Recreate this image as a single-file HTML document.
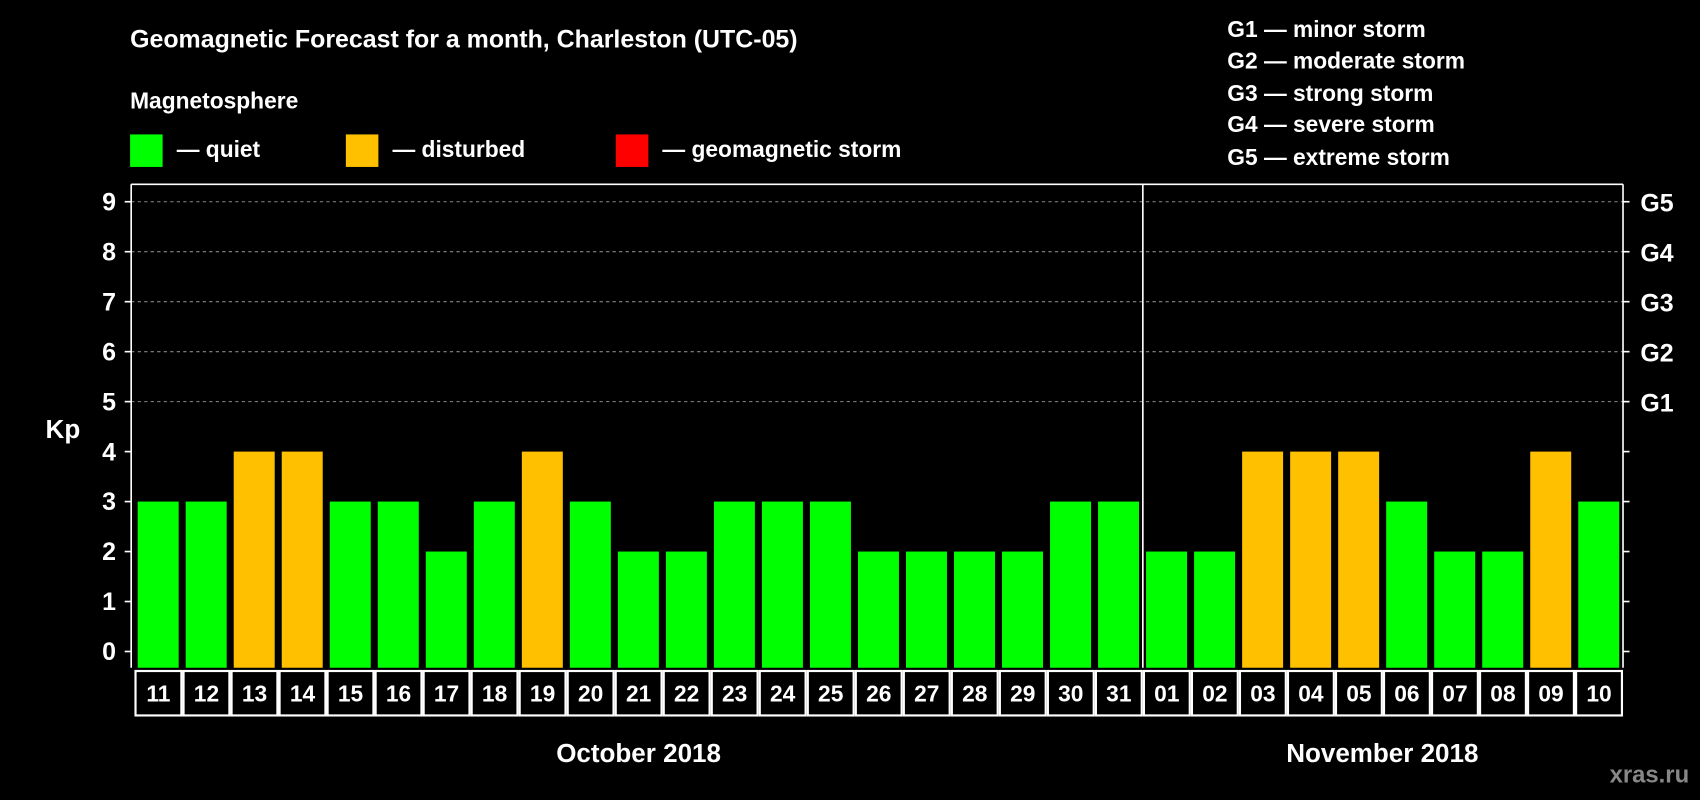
<!DOCTYPE html>
<html><head><meta charset="utf-8"><style>
html,body{margin:0;padding:0;background:#000;}
svg{display:block;font-family:"Liberation Sans",Arial,sans-serif;font-weight:bold;}
</style></head><body>
<svg id="chart" width="1700" height="800" viewBox="0 0 1568 738" preserveAspectRatio="none" xmlns="http://www.w3.org/2000/svg">
<rect width="1568" height="738" fill="#000"/>
<text x="120" y="44" fill="#fff" font-size="23">Geomagnetic Forecast for a month, Charleston (UTC-05)</text>
<text x="120" y="100" fill="#fff" font-size="21">Magnetosphere</text>
<g><rect x="120" y="124" width="30" height="30" fill="#00ff00"/><text x="163" y="145" fill="#fff" font-size="21">— quiet</text></g>
<g><rect x="319" y="124" width="30" height="30" fill="#ffc000"/><text x="362" y="145" fill="#fff" font-size="21">— disturbed</text></g>
<g><rect x="568" y="124" width="30" height="30" fill="#ff0000"/><text x="611" y="145" fill="#fff" font-size="21">— geomagnetic storm</text></g>
<g fill="#fff" font-size="21">
<text x="1132" y="34">G1 — minor storm</text>
<text x="1132" y="63">G2 — moderate storm</text>
<text x="1132" y="93">G3 — strong storm</text>
<text x="1132" y="122">G4 — severe storm</text>
<text x="1132" y="152">G5 — extreme storm</text>
</g>
<text x="58" y="404" fill="#fff" font-size="24" text-anchor="middle">Kp</text>
<g id="grid"></g><g id="bars"></g><g id="axes"></g><g id="labels"></g>
<text x="589" y="703" fill="#fff" font-size="24" text-anchor="middle">October 2018</text>
<text x="1275" y="703" fill="#fff" font-size="24" text-anchor="middle">November 2018</text>
<text x="1558" y="722" fill="#888" font-size="22" text-anchor="end">xras.ru</text>
</svg>
<script>
const days=["11","12","13","14","15","16","17","18","19","20","21","22","23","24","25","26","27","28","29","30","31","01","02","03","04","05","06","07","08","09","10"];
const kp=[3,3,4,4,3,3,2,3,4,3,2,2,3,3,3,2,2,2,2,3,3,2,2,4,4,4,3,2,2,4,3];
const yTicks=[0,1,2,3,4,5,6,7,8,9];
const gLabels=["G1","G2","G3","G4","G5"];
const NS="http://www.w3.org/2000/svg";
const L=121,R=1497,T=170,B=616,x0=124,cw=(R-x0)/days.length;
const y=v=>601-v*46.1;
const x=i=>x0+i*cw;
function mk(tag,at,parent){const e=document.createElementNS(NS,tag);for(const k in at)e.setAttribute(k,at[k]);document.getElementById(parent).appendChild(e);return e;}
yTicks.forEach(v=>{
 if(v>=5){const g=mk('line',{x1:L,x2:R,y1:y(v),y2:y(v),stroke:'#888','stroke-dasharray':'3,3'},'grid');
 
 }
 const t=mk('line',{x1:L-6,x2:L,y1:y(v),y2:y(v),stroke:'#fff','stroke-width':1.5},'axes');
 
 
 const t2=mk('line',{x1:R,x2:R+6,y1:y(v),y2:y(v),stroke:'#fff','stroke-width':1.5},'axes');
 
 
 const tx=mk('text',{x:L-14,y:y(v)+8,fill:'#fff','font-size':23,'text-anchor':'end'},'axes');tx.textContent=v;
 
 
 if(v>=5){const gt=mk('text',{x:R+16,y:y(v)+9,fill:'#fff','font-size':23},'axes');gt.textContent=gLabels[v-5];
 
 }
});
kp.forEach((v,i)=>{
 const b=mk('rect',{x:x(i)+3,y:y(v),width:cw-6.5,height:B-y(v),fill:v>=5?'#ff0000':v>=4?'#ffc000':'#00ff00'},'bars');
 
 
 const c=mk('rect',{x:x(i)+1,y:619,width:cw-2,height:41,fill:'none',stroke:'#fff','stroke-width':2},'labels');
 
 
 const t=mk('text',{x:x(i)+cw/2,y:647,fill:'#fff','font-size':21,'text-anchor':'middle'},'labels');t.textContent=days[i];
 
 
});
[[L,T,L,B],[R,T,R,B],[L,T,R,T],[x(21),T,x(21),B]].forEach(a=>{
 const l=mk('line',{x1:a[0],y1:a[1],x2:a[2],y2:a[3],stroke:'#fff','stroke-width':1.5},'axes');
 
 
});
</script>
</body></html>
